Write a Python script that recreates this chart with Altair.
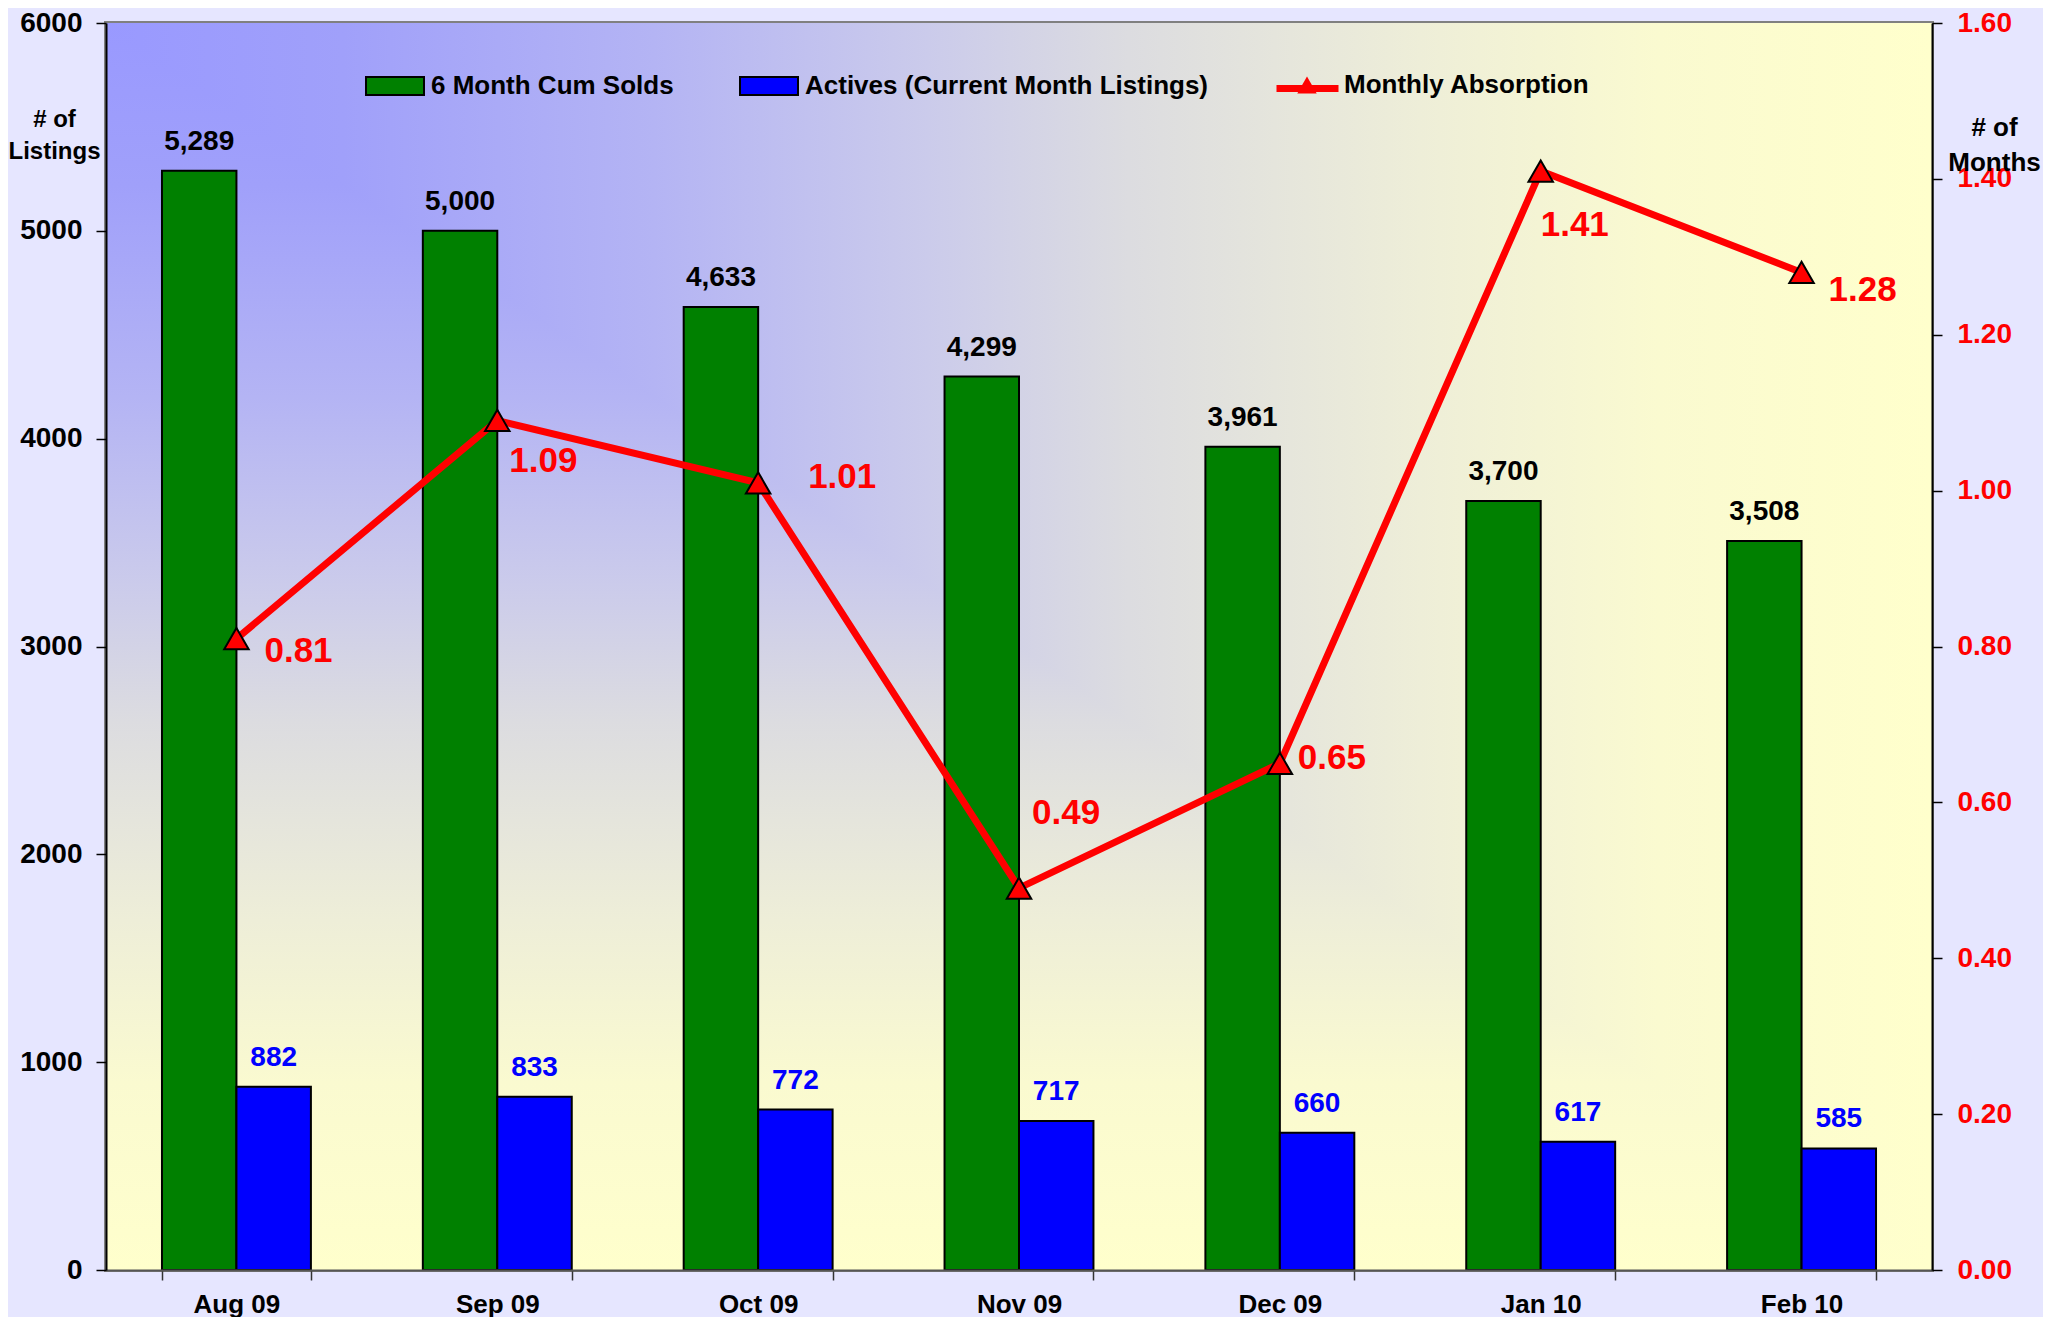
import altair as alt
import pandas as pd

# ---------------- data ----------------
months = ["Aug 09", "Sep 09", "Oct 09", "Nov 09", "Dec 09", "Jan 10", "Feb 10"]
cum_solds = [5289, 5000, 4633, 4299, 3961, 3700, 3508]
actives = [882, 833, 772, 717, 660, 617, 585]
absorption = [0.81, 1.09, 1.01, 0.49, 0.65, 1.41, 1.28]
series_names = ["6 Month Cum Solds", "Actives (Current Month Listings)"]
line_name = "Monthly Absorption"
left_ticks = [0, 1000, 2000, 3000, 4000, 5000, 6000]
right_ticks = [0.0, 0.2, 0.4, 0.6, 0.8, 1.0, 1.2, 1.4, 1.6]

# label nudges (pixels) for the absorption value labels
abs_label_dx = [28, 12, 50, 13, 18, 0, 27]
abs_label_dy = [12, 41, -6, -75, -5, 54, 18]

FONT = "Liberation Sans"
GREEN = "#008000"
BLUE = "#0000ff"
RED = "#ff0000"
PLOT_W = 1826
PLOT_H = 1247

# background "from corner" gradient colour stops
bg_offsets = [0.0, 0.13, 0.3, 0.45, 0.56, 0.72, 0.85, 1.0]
bg_colors = ["#9999ff", "#a0a0fa", "#b4b4f4", "#cbcbeb", "#dcdce0",
             "#eeeed8", "#fafad0", "#ffffcc"]

bars_df = pd.DataFrame({
    "month": months * 2,
    "series": [series_names[0]] * len(months) + [series_names[1]] * len(months),
    "value": cum_solds + actives,
})
line_df = pd.DataFrame({
    "month": months,
    "absorption": absorption,
    "line_key": ["line"] * len(months),
    "abs_key": [line_name] * len(months),
})


def grad(x2, y2):
    return alt.LinearGradient(
        gradient="linear", x1=0, y1=0, x2=x2, y2=y2,
        stops=[alt.GradientStop(color=c, offset=o) for o, c in zip(bg_offsets, bg_colors)],
    )


x_enc = alt.X(
    "month:N",
    sort=months,
    scale=alt.Scale(domain=months, paddingInner=0.4291, paddingOuter=0.2146),
    axis=alt.Axis(
        title=None, tickBand="extent", labelAngle=0, labelFontSize=26,
        labelPadding=11, tickSize=10, domainColor="#555555", domainWidth=2,
        tickColor="#333333", tickWidth=1.5, zindex=1, grid=False,
    ),
)
xoff_enc = alt.XOffset(
    "series:N", sort=series_names,
    scale=alt.Scale(domain=series_names, paddingInner=0, paddingOuter=0),
)
y_left = alt.Y(
    "value:Q",
    scale=alt.Scale(domain=[0, 6000], nice=False),
    axis=alt.Axis(
        orient="left", values=left_ticks, format="d", labelFontSize=28,
        labelPadding=14, tickSize=10, domainColor="#000000", domainWidth=2,
        tickColor="#000000", tickWidth=1.5, zindex=1, grid=False,
        title=["# of", "Listings"], titleAngle=0, titleAlign="center",
        titleBaseline="alphabetic", titleX=-52, titleY=103, titleFontSize=24,
        titleLineHeight=32,
    ),
)
y_right = alt.Y(
    "absorption:Q",
    scale=alt.Scale(domain=[0, 1.6], nice=False),
    axis=alt.Axis(
        orient="right", values=right_ticks, format=".2f", labelFontSize=28,
        labelColor=RED, labelPadding=15, tickSize=10, domainColor="#000000",
        domainWidth=2, tickColor="#000000", tickWidth=1.5, zindex=1, grid=False,
        title=["# of", "Months"], titleAngle=0, titleAlign="center",
        titleBaseline="alphabetic", titleX=62, titleY=112, titleFontSize=26,
        titleLineHeight=35,
    ),
)

# ---------------- background gradient (rectangular contours from top-left) -------
bg_df = pd.DataFrame({"k": [0]})
# lower-left half: colour follows the vertical position
bg_vertical = alt.Chart(bg_df).mark_rect(fill=grad(0, 1), strokeWidth=0).encode(
    x=alt.value(0), x2=alt.value("width"), y=alt.value(0), y2=alt.value("height")
)
# upper-right half (above the diagonal): colour follows the horizontal position
aspect = PLOT_H / PLOT_W
tri_path = f"M-1,{-aspect:.5f}L1,{-aspect:.5f}L1,{aspect:.5f}Z"
bg_horizontal = alt.Chart(bg_df).mark_point(
    shape=tri_path, size=PLOT_W * PLOT_W, filled=True, fill=grad(1, 0),
    strokeWidth=0, opacity=1,
).encode(
    x=alt.value({"expr": "width/2"}), y=alt.value({"expr": "height/2"})
)

# ---------------- bars ----------------
bars = alt.Chart(bars_df).mark_bar(stroke="black", strokeWidth=2, opacity=1).encode(
    x=x_enc,
    xOffset=xoff_enc,
    y=y_left,
    fill=alt.Fill(
        "series:N",
        scale=alt.Scale(domain=series_names, range=[GREEN, BLUE]),
        legend=alt.Legend(
            title=None, orient="none", direction="horizontal",
            legendX=259, legendY=33,
            symbolType="M-1,-0.31H1V0.31H-1Z", symbolSize=3364,
            symbolStrokeColor="black", symbolStrokeWidth=2, symbolOpacity=1,
            labelOffset=6, columnPadding=62,
        ),
    ),
)
solds_labels = alt.Chart(bars_df).transform_filter(
    alt.datum.series == series_names[0]
).mark_text(
    color="black", fontSize=28, fontWeight="bold", baseline="alphabetic", dy=-21
).encode(x=x_enc, xOffset=xoff_enc, y=y_left, text=alt.Text("value:Q", format=","))
actives_labels = alt.Chart(bars_df).transform_filter(
    alt.datum.series == series_names[1]
).mark_text(
    color=BLUE, fontSize=28, fontWeight="bold", baseline="alphabetic", dy=-21
).encode(x=x_enc, xOffset=xoff_enc, y=y_left, text=alt.Text("value:Q", format=","))

# ---------------- absorption line ----------------
line = alt.Chart(line_df).mark_line(strokeWidth=7).encode(
    x=x_enc,
    y=y_right,
    stroke=alt.Stroke(
        "line_key:N",
        scale=alt.Scale(domain=["line"], range=[RED]),
        legend=alt.Legend(
            title=None, orient="none", legendX=1167, legendY=31,
            symbolType="stroke", symbolSize=3844, symbolStrokeWidth=7,
            labelExpr="''",
        ),
    ),
)
points = alt.Chart(line_df).mark_point(
    filled=True, size=600, fill=RED, stroke="black", strokeWidth=2, opacity=1
).encode(
    x=x_enc,
    y=y_right,
    shape=alt.Shape(
        "abs_key:N",
        scale=alt.Scale(domain=[line_name], range=["triangle-up"]),
        legend=alt.Legend(
            title=None, orient="none", legendX=1188, legendY=49,
            symbolSize=380, symbolFillColor=RED, symbolStrokeColor="black",
            symbolStrokeWidth=1.5, symbolOpacity=1, labelOffset=24,
        ),
    ),
)
abs_labels = []
for i, m in enumerate(months):
    abs_labels.append(
        alt.Chart(line_df).transform_filter(alt.datum.month == m).mark_text(
            color=RED, fontSize=35, fontWeight="bold", align="left",
            baseline="middle", dx=abs_label_dx[i], dy=abs_label_dy[i],
        ).encode(x=x_enc, y=y_right, text=alt.Text("absorption:Q", format=".2f"))
    )

chart = alt.layer(
    bg_vertical,
    bg_horizontal,
    alt.layer(bars, solds_labels, actives_labels),
    alt.layer(line, points, *abs_labels),
).resolve_scale(y="independent").properties(
    width=PLOT_W,
    height=PLOT_H,
    padding={"left": 98, "top": 15, "right": 111, "bottom": 47},
    autosize=alt.AutoSizeParams(type="none"),
    background="#e6e6ff",
).configure(
    font=FONT
).configure_view(
    stroke="#808080", strokeWidth=4
).configure_axis(
    labelFont=FONT, titleFont=FONT, labelFontWeight="bold",
    titleFontWeight="bold", labelColor="black", titleColor="black",
).configure_legend(
    labelFont=FONT, labelFontSize=26, labelFontWeight="bold",
    labelColor="black", padding=0, titlePadding=0, labelLimit=0,
)

chart.save("out.html", embed_options={"renderer": "svg", "actions": False})
